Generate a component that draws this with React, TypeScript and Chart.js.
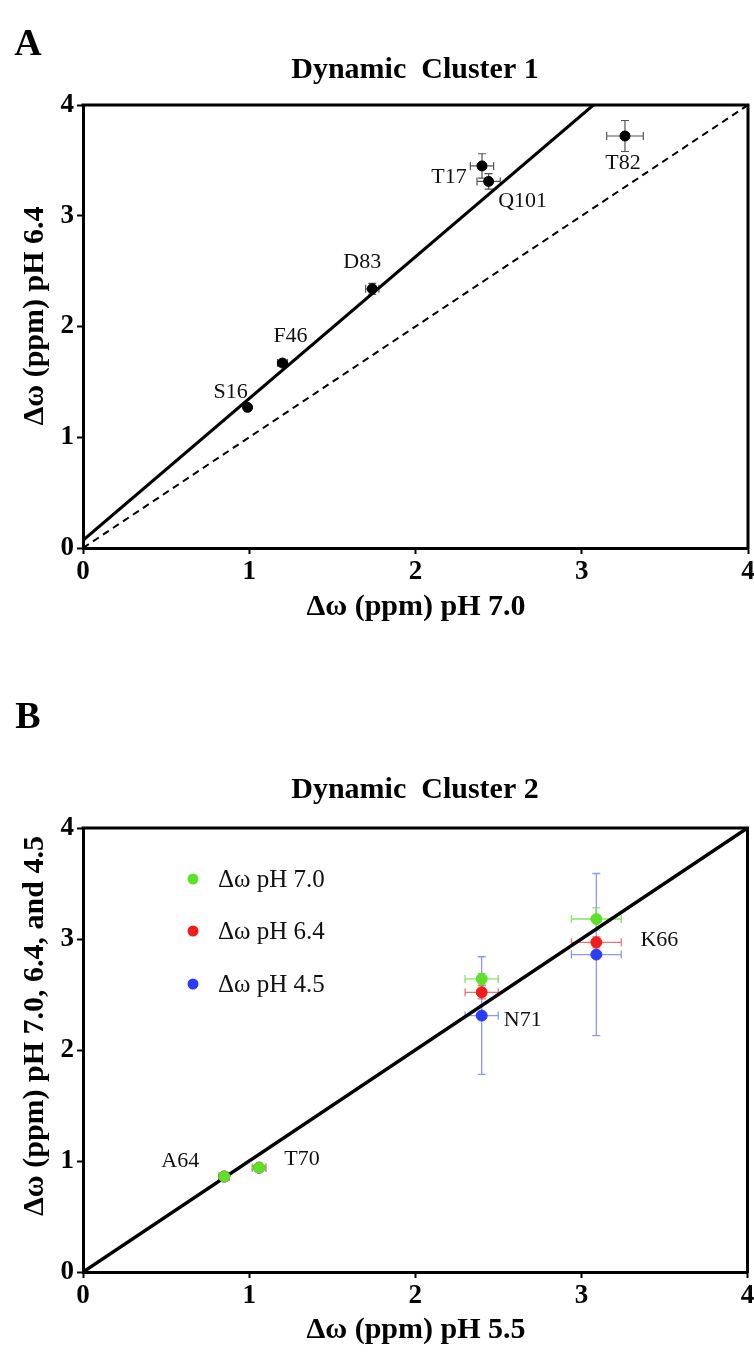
import React, { useEffect, useRef } from 'react';
import { Chart, registerables } from 'chart.js';

Chart.register(...registerables);

// ---------- Data: Panel A (Dynamic Cluster 1) ----------
const residuesA = ['S16', 'F46', 'D83', 'T17', 'Q101', 'T82'];
const xA_pH70 = [0.99, 1.2, 1.74, 2.4, 2.44, 3.26];
const yA_pH64 = [1.27, 1.67, 2.34, 3.45, 3.31, 3.72];
const xErrA = [0.01, 0.03, 0.04, 0.07, 0.07, 0.11];
const yErrA = [0.01, 0.03, 0.05, 0.11, 0.07, 0.14];
const fitLineA_x = [0, 3.07];
const fitLineA_y = [0.07, 4.0];
const identityLine = [0, 4];

// ---------- Data: Panel B (Dynamic Cluster 2) ----------
const residuesB = ['A64', 'T70', 'N71', 'K66'];
const xB_pH55 = [0.85, 1.06, 2.4, 3.09];
const xErrB = [0.03, 0.04, 0.1, 0.15];
const yB_pH70 = [0.86, 0.94, 2.64, 3.18];
const yErrB_pH70 = [0.02, 0.02, 0.05, 0.1];
const yB_pH64 = [0.86, 0.94, 2.52, 2.97];
const yErrB_pH64 = [0.02, 0.02, 0.06, 0.05];
const yB_pH45 = [0.86, 0.94, 2.31, 2.86];
const yErrB_pH45 = [0.02, 0.02, 0.53, 0.73];
const seriesLabelsB = ['Δω pH 7.0', 'Δω pH 6.4', 'Δω pH 4.5'];

// ---------- Axes ----------
const tickValues = [0, 1, 2, 3, 4];
const tickLabels = ['0', '1', '2', '3', '4'];

// ---------- Styles / placement (not data) ----------
const FONT = '"Liberation Serif", "Times New Roman", serif';
const W = 754;
const labelOffsetsA = [
  [-17, -15], [8, -27], [-10, -27], [-33, 11], [34, 20], [-2, 27],
];
const labelOffsetsB = [
  [-44, -15], [43, -8], [41, 41], [63, 21],
];
const colorsB = ['#5fe02a', '#f01c1c', '#2c3cf5'];
const errColorsB = ['rgba(110,225,70,0.85)', 'rgba(235,80,80,0.8)', 'rgba(110,125,250,0.8)'];

const errorBarPlugin = {
  id: 'errorBars',
  beforeDatasetsDraw(chart: any) {
    const { ctx, scales } = chart;
    const x = scales.x, y = scales.y;
    const ds = chart.data.datasets;
    for (let i = ds.length - 1; i >= 0; i--) {
      const d: any = ds[i];
      if (!d.errX) continue;
      ctx.save();
      ctx.strokeStyle = d.errColor;
      ctx.lineWidth = d.errWidth || 1.3;
      const cap = 4;
      d.data.forEach((p: any, j: number) => {
        const px = x.getPixelForValue(p.x), py = y.getPixelForValue(p.y);
        const x0 = x.getPixelForValue(p.x - d.errX[j]), x1 = x.getPixelForValue(p.x + d.errX[j]);
        const y0 = y.getPixelForValue(p.y - d.errY[j]), y1 = y.getPixelForValue(p.y + d.errY[j]);
        ctx.beginPath();
        ctx.moveTo(x0, py); ctx.lineTo(x1, py);
        ctx.moveTo(x0, py - cap); ctx.lineTo(x0, py + cap);
        ctx.moveTo(x1, py - cap); ctx.lineTo(x1, py + cap);
        ctx.moveTo(px, y0); ctx.lineTo(px, y1);
        ctx.moveTo(px - cap, y0); ctx.lineTo(px + cap, y0);
        ctx.moveTo(px - cap, y1); ctx.lineTo(px + cap, y1);
        ctx.stroke();
      });
      ctx.restore();
    }
  },
};

const nameLabelPlugin = {
  id: 'nameLabels',
  afterDatasetsDraw(chart: any) {
    const { ctx, scales } = chart;
    chart.data.datasets.forEach((d: any) => {
      if (!d.names) return;
      ctx.save();
      ctx.fillStyle = '#111';
      ctx.font = `22px ${FONT}`;
      ctx.textAlign = 'center';
      ctx.textBaseline = 'middle';
      d.names.forEach((n: string, j: number) => {
        const p = d.data[j];
        const off = d.nameOffsets[j];
        ctx.fillText(n, scales.x.getPixelForValue(p.x) + off[0], scales.y.getPixelForValue(p.y) + off[1]);
      });
      ctx.restore();
    });
  },
};

function decorPlugin(o: any) {
  return {
    id: 'decor',
    afterDraw(chart: any) {
      const { ctx, chartArea } = chart;
      ctx.save();
      // top and right frame
      ctx.strokeStyle = '#000';
      ctx.lineWidth = 3;
      ctx.beginPath();
      ctx.moveTo(chartArea.left - 1.5, chartArea.top);
      ctx.lineTo(chartArea.right, chartArea.top);
      ctx.lineTo(chartArea.right, chartArea.bottom + 1.5);
      ctx.stroke();
      ctx.fillStyle = '#000';
      ctx.textBaseline = 'middle';
      ctx.textAlign = 'center';
      ctx.font = `bold 38px ${FONT}`;
      ctx.fillText(o.letter, 28, o.letterY);
      ctx.font = `bold 30px ${FONT}`;
      ctx.fillText(o.title, 415, o.titleY);
      ctx.fillText(o.xTitle, 416, o.xTitleY);
      ctx.save();
      ctx.translate(35, o.yTitleY);
      ctx.rotate(-Math.PI / 2);
      ctx.fillText(o.yTitle, 0, 0);
      ctx.restore();
      if (o.legend) {
        ctx.font = `25px ${FONT}`;
        ctx.textAlign = 'left';
        o.legend.forEach((it: any, i: number) => {
          const yy = o.legendY[i];
          ctx.fillStyle = it.color;
          ctx.beginPath();
          ctx.arc(193, yy, 5.5, 0, Math.PI * 2);
          ctx.fill();
          ctx.fillStyle = '#111';
          ctx.fillText(it.label, 218, yy + 1);
        });
      }
      ctx.restore();
    },
  };
}

function axis(kind: 'x' | 'y', size: number) {
  return {
    type: 'linear',
    min: 0,
    max: 4,
    afterBuildTicks: (s: any) => {
      s.ticks = tickValues.map((v) => ({ value: v }));
    },
    ticks: {
      color: '#000',
      font: { family: FONT, size: 27, weight: 'bold' },
      padding: kind === 'x' ? 2 : 3,
      callback: (v: number) => tickLabels[tickValues.indexOf(v)] ?? '',
    },
    grid: {
      display: true,
      drawOnChartArea: false,
      drawTicks: true,
      tickLength: 6,
      tickWidth: 2,
      tickColor: '#000',
      color: '#000',
    },
    border: { display: true, color: '#000', width: 3 },
    afterFit: (s: any) => {
      if (kind === 'x') s.height = size; else s.width = size;
      s.paddingLeft = 0; s.paddingRight = 0; s.paddingTop = 0; s.paddingBottom = 0;
    },
  };
}

function baseOptions(top: number, xSize: number) {
  return {
    responsive: false,
    animation: false,
    layout: { padding: { top, right: 6, left: 0, bottom: 0 } },
    plugins: { legend: { display: false }, tooltip: { enabled: false }, title: { display: false } },
    scales: { x: axis('x', xSize), y: axis('y', 83) },
  };
}

const H_A = 640;
const H_B = 717;

function configA(): any {
  return {
    type: 'scatter',
    data: {
      datasets: [
        {
          label: 'Cluster 1',
          data: xA_pH70.map((x, i) => ({ x, y: yA_pH64[i] })),
          backgroundColor: '#000',
          borderColor: '#000',
          pointRadius: 5,
          errX: xErrA, errY: yErrA, errColor: '#555', errWidth: 1.2,
          names: residuesA, nameOffsets: labelOffsetsA,
        },
        {
          type: 'line',
          label: 'fit',
          data: fitLineA_x.map((x, i) => ({ x, y: fitLineA_y[i] })),
          borderColor: '#000', borderWidth: 3, pointRadius: 0, fill: false,
        },
        {
          type: 'line',
          label: 'identity',
          data: identityLine.map((v) => ({ x: v, y: v })),
          borderColor: '#000', borderWidth: 2, borderDash: [7, 5], pointRadius: 0, fill: false,
        },
      ],
    },
    options: baseOptions(105, H_A - 548),
    plugins: [
      errorBarPlugin,
      nameLabelPlugin,
      decorPlugin({
        letter: 'A', letterY: 45, title: 'Dynamic  Cluster 1', titleY: 70,
        xTitle: 'Δω (ppm) pH 7.0', xTitleY: 607, yTitle: 'Δω (ppm) pH 6.4', yTitleY: 316,
      }),
    ],
  };
}

function configB(): any {
  const ys = [yB_pH70, yB_pH64, yB_pH45];
  const es = [yErrB_pH70, yErrB_pH64, yErrB_pH45];
  const off = 640;
  const pointSets = ys.map((yy, k) => ({
    label: seriesLabelsB[k],
    data: xB_pH55.map((x, i) => ({ x, y: yy[i] })),
    backgroundColor: colorsB[k],
    borderColor: colorsB[k],
    pointRadius: 5.5,
    errX: xErrB, errY: es[k], errColor: errColorsB[k], errWidth: 1.3,
    ...(k === 0 ? { names: residuesB, nameOffsets: labelOffsetsB } : {}),
  }));
  return {
    type: 'scatter',
    data: {
      datasets: [
        ...pointSets,
        {
          type: 'line',
          label: 'identity',
          data: identityLine.map((v) => ({ x: v, y: v })),
          borderColor: '#000', borderWidth: 3.5, pointRadius: 0, fill: false,
        },
      ],
    },
    options: baseOptions(828 - off, H_B - (1272 - off)),
    plugins: [
      errorBarPlugin,
      nameLabelPlugin,
      decorPlugin({
        letter: 'B', letterY: 718 - off, title: 'Dynamic  Cluster 2', titleY: 790 - off,
        xTitle: 'Δω (ppm) pH 5.5', xTitleY: 1330 - off,
        yTitle: 'Δω (ppm) pH 7.0, 6.4, and 4.5', yTitleY: 1026 - off,
        legend: seriesLabelsB.map((label, k) => ({ label, color: colorsB[k] })),
        legendY: [879 - off, 931 - off, 984 - off],
      }),
    ],
  };
}

function Panel({ make, top, height }: { make: () => any; top: number; height: number }) {
  const ref = useRef<HTMLCanvasElement>(null);
  useEffect(() => {
    const chart = new Chart(ref.current as HTMLCanvasElement, make());
    return () => chart.destroy();
  }, []);
  return (
    <canvas
      ref={ref}
      width={W}
      height={height}
      style={{ position: 'absolute', left: 0, top, width: W, height, display: 'block' }}
    />
  );
}

export default function App() {
  return (
    <div style={{ position: 'absolute', left: 0, top: 0, width: W, height: 1357, background: '#fff', overflow: 'hidden' }}>
      <Panel make={configA} top={0} height={H_A} />
      <Panel make={configB} top={640} height={H_B} />
    </div>
  );
}
